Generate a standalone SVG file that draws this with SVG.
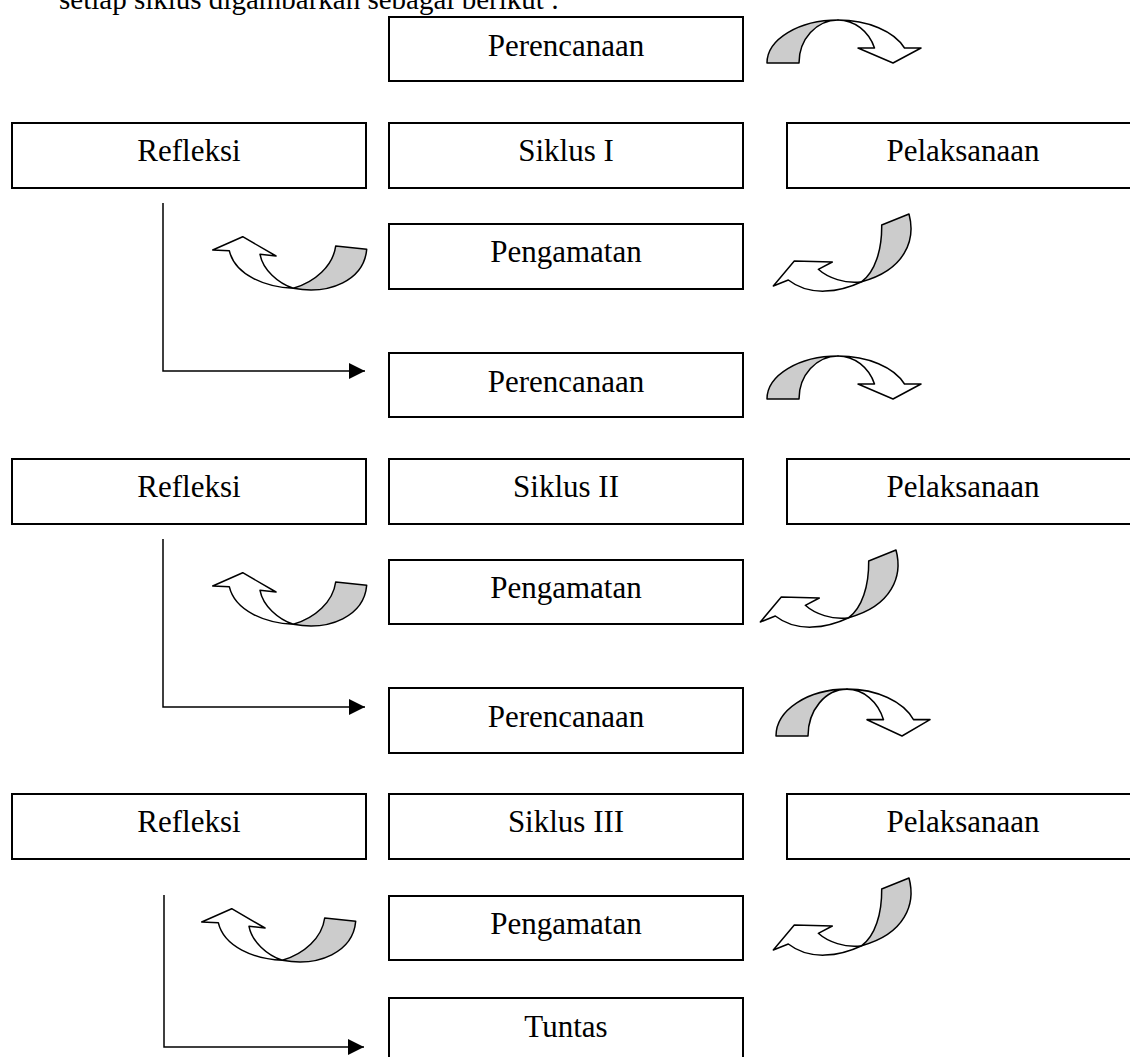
<svg xmlns="http://www.w3.org/2000/svg" width="1130" height="1057" viewBox="0 0 1130 1057">
<style>
.box{fill:#fff;stroke:#000;stroke-width:2}
.lbl{font-family:"Liberation Serif","Times New Roman",serif;font-size:31px;fill:#000;text-anchor:middle}
.intro{font-family:"Liberation Serif","Times New Roman",serif;font-size:29px;fill:#000}
.ln{fill:none;stroke:#000;stroke-width:1.5}
.gr{fill:#cccccc;stroke:#000;stroke-width:1.5;stroke-linejoin:round}
.wh{fill:#fff;stroke:#000;stroke-width:1.5;stroke-linejoin:round}
</style>
<defs>
<marker id="ah" viewBox="0 0 16 16" refX="16" refY="8" markerWidth="16" markerHeight="16" markerUnits="userSpaceOnUse" orient="auto">
<path d="M0,0 L16,8 L0,16 Z" fill="#000"/>
</marker>
<g id="arrowA">
<path class="gr" d="M-71,0 A71,43 0 0 1 0,-43 A39,43 0 0 0 -39,0 Z"/>
<path class="wh" d="M0,-43 A71,43 0 0 1 66.5,-15 L83,-15 L55,0 L20,-15 L36.5,-15 A39,43 0 0 0 0,-43 Z"/>
</g>
<g id="arrowB">
<path class="gr" d="M42.4,-42.3 L73.4,-39 C70.7,-8.3 36.7,6.7 0,0 C21.7,-6.3 39.7,-22.3 42.4,-42.3 Z"/>
<path class="wh" d="M0,0 C-28.3,-1.3 -58.3,-13.3 -64,-37.6 L-80.6,-38.3 L-50.6,-51.6 L-17.3,-32.3 L-33.3,-34 C-30.3,-18.3 -15.3,-5.3 0,0 Z"/>
</g>
<g id="arrowC">
<path class="gr" d="M47.3,-67.7 C54.3,-41.7 43.3,-11.7 0,0 C13.3,-9.7 20.3,-31.7 20,-56.7 Z"/>
<path class="wh" d="M0,0 C-21.7,10.3 -51.7,15.3 -73.4,-1.7 L-88.4,4.3 L-67.4,-20.7 L-29.4,-19.7 L-43.4,-12.4 C-33.7,-3.7 -16.7,2.3 0,0 Z"/>
</g>
</defs>
<rect width="1130" height="1057" fill="#fff"/>
<text class="intro" x="59" y="9">setiap siklus digambarkan sebagai berikut :</text>

<g id="connectors">
<path class="ln" d="M163,203 V371 H365" marker-end="url(#ah)"/>
<path class="ln" d="M163,539 V707 H365" marker-end="url(#ah)"/>
<path class="ln" d="M164,895 V1047 H364" marker-end="url(#ah)"/>
<use href="#arrowA" transform="translate(838,63)"/>
<use href="#arrowA" transform="translate(838,399)"/>
<use href="#arrowA" transform="translate(847,736) scale(1,1.09)"/>
<use href="#arrowB" transform="translate(293.3,288.3)"/>
<use href="#arrowB" transform="translate(293.3,624.3)"/>
<use href="#arrowB" transform="translate(282.3,960.3)"/>
<use href="#arrowC" transform="translate(861.7,281.7)"/>
<use href="#arrowC" transform="translate(848.7,617.7)"/>
<use href="#arrowC" transform="translate(861.7,945.7)"/>
</g>

<g id="perencanaan1"><rect class="box" x="389" y="17" width="354" height="64"/><text class="lbl" x="566" y="56">Perencanaan</text></g>
<g id="refleksi1"><rect class="box" x="12" y="123" width="354" height="65"/><text class="lbl" x="189" y="161">Refleksi</text></g>
<g id="siklus1"><rect class="box" x="389" y="123" width="354" height="65"/><text class="lbl" x="566" y="161">Siklus I</text></g>
<g id="pelaksanaan1"><rect class="box" x="787" y="123" width="354" height="65"/><text class="lbl" x="963" y="161">Pelaksanaan</text></g>
<g id="pengamatan1"><rect class="box" x="389" y="224" width="354" height="65"/><text class="lbl" x="566" y="262">Pengamatan</text></g>

<g id="perencanaan2"><rect class="box" x="389" y="353" width="354" height="64"/><text class="lbl" x="566" y="392">Perencanaan</text></g>
<g id="refleksi2"><rect class="box" x="12" y="459" width="354" height="65"/><text class="lbl" x="189" y="497">Refleksi</text></g>
<g id="siklus2"><rect class="box" x="389" y="459" width="354" height="65"/><text class="lbl" x="566" y="497">Siklus II</text></g>
<g id="pelaksanaan2"><rect class="box" x="787" y="459" width="354" height="65"/><text class="lbl" x="963" y="497">Pelaksanaan</text></g>
<g id="pengamatan2"><rect class="box" x="389" y="560" width="354" height="64"/><text class="lbl" x="566" y="598">Pengamatan</text></g>

<g id="perencanaan3"><rect class="box" x="389" y="688" width="354" height="65"/><text class="lbl" x="566" y="727">Perencanaan</text></g>
<g id="refleksi3"><rect class="box" x="12" y="794" width="354" height="65"/><text class="lbl" x="189" y="832">Refleksi</text></g>
<g id="siklus3"><rect class="box" x="389" y="794" width="354" height="65"/><text class="lbl" x="566" y="832">Siklus III</text></g>
<g id="pelaksanaan3"><rect class="box" x="787" y="794" width="354" height="65"/><text class="lbl" x="963" y="832">Pelaksanaan</text></g>
<g id="pengamatan3"><rect class="box" x="389" y="896" width="354" height="64"/><text class="lbl" x="566" y="934">Pengamatan</text></g>
<g id="tuntas"><rect class="box" x="389" y="998" width="354" height="70"/><text class="lbl" x="566" y="1037">Tuntas</text></g>
</svg>
